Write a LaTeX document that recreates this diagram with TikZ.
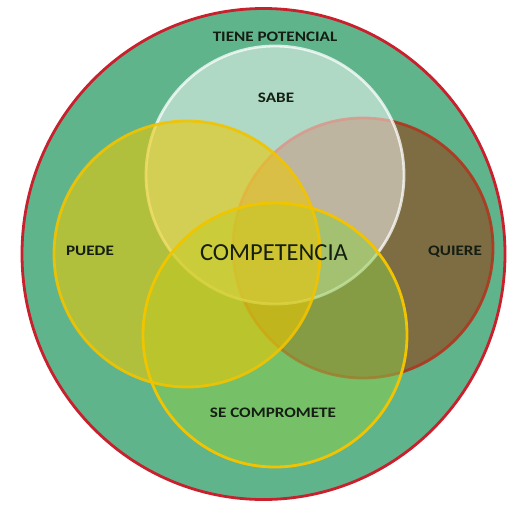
\documentclass[tikz,border=0pt]{standalone}
\usepackage{fontspec}
\usepackage{graphicx}
\setmainfont{Carlito}
\definecolor{outerfill}{RGB}{96,180,140}
\definecolor{outerline}{RGB}{200,32,44}
\definecolor{quierefill}{RGB}{140,78,35}
\definecolor{quiereline}{RGB}{175,55,30}
\definecolor{puedefill}{RGB}{238,200,0}
\definecolor{goldline}{RGB}{242,195,0}
\definecolor{compfill}{RGB}{140,205,70}
\definecolor{txt}{RGB}{20,30,18}
\newcommand{\widelbl}[1]{\scalebox{1.18}[1]{#1}}
\tikzset{
  lbl/.style={text=txt, font=\bfseries\fontsize{14.5}{14.5}\selectfont, inner sep=0pt},
  big/.style={text=txt, font=\fontsize{24.5}{24.5}\selectfont, inner sep=0pt},
  vcircle/.style={circle, line width=2.8pt, inner sep=0pt}
}
\begin{document}
\begin{tikzpicture}[x=1pt,y=-1pt]
\useasboundingbox (0,0) rectangle (508,506);
\fill[white] (0,0) rectangle (508,506);
\draw[fill=outerfill, draw=outerline, line width=2.8pt] (263.5,254) ellipse [x radius=241.5, y radius=245.5];
\coordinate (outer) at (263.5,254);
\node[vcircle, minimum size=260pt, fill=quierefill, fill opacity=0.7, draw=quiereline, draw opacity=0.9] (quiere) at (363,248) {};
\node[vcircle, minimum size=258pt, fill=white, fill opacity=0.5, draw=white, draw opacity=0.75] (sabe) at (275,175) {};
\node[vcircle, minimum size=264pt, fill=compfill, fill opacity=0.5, draw=goldline] (comp) at (275,335) {};
\node[vcircle, minimum size=266pt, fill=puedefill, fill opacity=0.57, draw=goldline, draw opacity=0.9] (puede) at (187,254) {};
\node[lbl] (tlbl) at (275,37) {\widelbl{TIENE POTENCIAL}};
\node[lbl] (slbl) at (276,98) {\widelbl{SABE}};
\node[lbl] (plbl) at (90,251) {\widelbl{PUEDE}};
\node[lbl] (qlbl) at (455,252) {\widelbl{QUIERE}};
\node[lbl] (clbl) at (273,413) {\widelbl{SE COMPROMETE}};
\node[big] (center) at (274,253) {COMPETENCIA};
\end{tikzpicture}
\end{document}
